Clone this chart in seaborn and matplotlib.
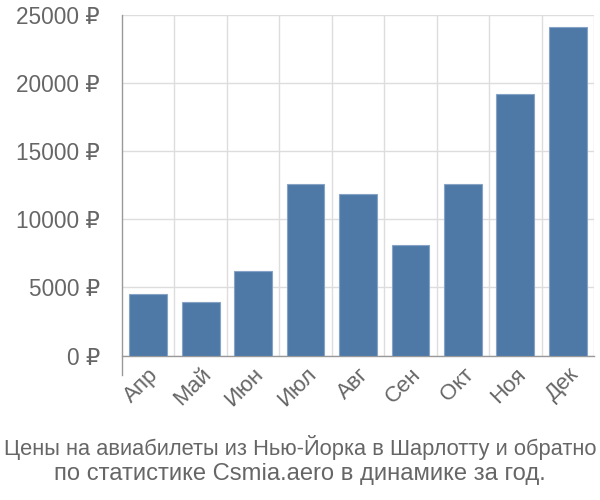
import matplotlib
matplotlib.use("Agg")
import matplotlib.pyplot as plt
import seaborn as sns
import pandas as pd
import numpy as np
from matplotlib.ticker import FixedLocator, FuncFormatter

months = ["Апр", "Май", "Июн", "Июл", "Авг", "Сен", "Окт", "Ноя", "Дек"]
prices = [4500, 3900, 6200, 12600, 11850, 8100, 12600, 19200, 24100]
y_ticks = [0, 5000, 10000, 15000, 20000, 25000]
caption_lines = ["Цены на авиабилеты из Нью-Йорка в Шарлотту и обратно",
                 "по статистике Csmia.aero в динамике за год."]

sns.set_theme(style="white")
plt.rcParams['font.family'] = ['Liberation Sans', 'DejaVu Sans']

df = pd.DataFrame({"month": months, "price": prices})

fig = plt.figure(figsize=(6, 5), dpi=100)
ax = fig.add_axes([122/600, 1-355.7/500, (594-122)/600, (355.7-14.5)/500])

sns.barplot(data=df, x="month", y="price", ax=ax, color="#4e79a7", saturation=1,
            width=0.72, edgecolor="#86a3c6", linewidth=0.8, zorder=3)

ax.set_xlim(-0.5, len(months) - 0.5)
ax.set_ylim(0, 25000)
ax.yaxis.set_major_locator(FixedLocator(y_ticks))
ax.yaxis.set_major_formatter(FuncFormatter(lambda v, p: f"{int(v)} ₽"))

ax.xaxis.set_minor_locator(FixedLocator(np.arange(0.5, len(months), 1.0)))
ax.tick_params(axis="x", which="major", length=0, pad=6, labelsize=16, labelcolor="#666666")
ax.tick_params(axis="x", which="minor", length=14, width=1, color="#dddddd")
ax.tick_params(axis="y", which="major", length=14, width=1, color="#dddddd", labelsize=16.3,
               labelcolor="#666666", pad=2)
for lab in ax.get_xticklabels():
    lab.set_rotation(45)
    lab.set_ha("right")
    lab.set_rotation_mode("anchor")

ax.grid(False)
ax.xaxis.grid(True, which="minor", color="#dddddd", linewidth=1, zorder=0)
ax.yaxis.grid(True, which="major", color="#dddddd", linewidth=1, zorder=0)
ax.set_axisbelow(True)

for s in ["top", "right"]:
    ax.spines[s].set_visible(False)
ax.spines["left"].set_color("#999999")
ax.spines["bottom"].set_color("#999999")
ax.spines["left"].set_linewidth(1)
ax.spines["bottom"].set_linewidth(1)
ax.spines["left"].set_bounds(-1420, 25000)

ax.set_xlabel("")
ax.set_ylabel("")

fig.text(0.5, 1-447/500, caption_lines[0], ha="center", va="center", fontsize=15.75,
         color="#666666")
fig.text(0.5, 1-474/500, caption_lines[1], ha="center", va="center", fontsize=17.1,
         color="#666666")

fig.savefig("out.png", dpi=100)
